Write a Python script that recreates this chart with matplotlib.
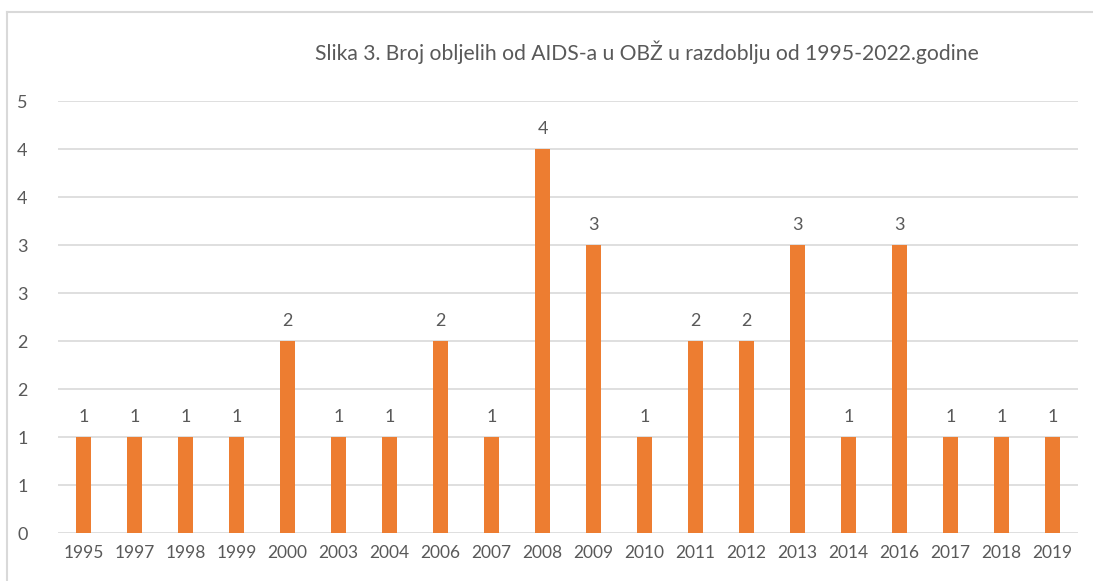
import matplotlib.pyplot as plt
from matplotlib.lines import Line2D

years = ['1995', '1997', '1998', '1999', '2000', '2003', '2004', '2006', '2007', '2008',
         '2009', '2010', '2011', '2012', '2013', '2014', '2016', '2017', '2018', '2019']
deaths = [1, 1, 1, 1, 2, 1, 1, 2, 1, 4, 3, 1, 2, 2, 3, 1, 3, 1, 1, 1]
y_ticks = [0, 0.5, 1, 1.5, 2, 2.5, 3, 3.5, 4, 4.5]
y_labels = ['0', '1', '1', '2', '2', '3', '3', '4', '4', '5']

plt.rcParams['font.family'] = ['Lato', 'DejaVu Sans']
grey = '#595959'

fig = plt.figure(figsize=(10.93, 5.81), dpi=100)
ax = fig.add_axes([58 / 1093, 48 / 581, 1020 / 1093, 432 / 581])

x = range(len(years))
ax.bar(x, deaths, width=0.31, color='#ED7D31', zorder=3)
for i, v in zip(x, deaths):
    ax.text(i, v + 0.12, str(v), ha='center', va='bottom', fontsize=13, color=grey)

ax.set_xlim(-0.5, len(years) - 0.5)
ax.set_ylim(0, 4.5)
ax.set_yticks(y_ticks)
ax.set_yticklabels(y_labels, fontsize=13, color=grey)
ax.set_xticks(list(x))
ax.set_xticklabels(years, fontsize=12.5, color=grey)
ax.tick_params(length=0)
ax.tick_params(axis='y', pad=22)
ax.tick_params(axis='x', pad=9)
ax.grid(axis='y', color='#d9d9d9', linewidth=1.2, zorder=0)
for s in ax.spines.values():
    s.set_visible(False)

fig.text(647 / 1093, 1 - 52 / 581, 'Slika 3. Broj obljelih od AIDS-a u OBŽ u razdoblju od 1995-2022.godine',
         ha='center', va='center', fontsize=15.2, color=grey)

# chart frame: only top and left edges fall inside the picture
top = 1 - 12 / 581
left = 7 / 1093
fig.lines.append(Line2D([left, 1], [top, top], transform=fig.transFigure, color='#d9d9d9', linewidth=1.5))
fig.lines.append(Line2D([left, left], [0, top], transform=fig.transFigure, color='#d9d9d9', linewidth=1.5))

fig.savefig('out.png', dpi=100)
